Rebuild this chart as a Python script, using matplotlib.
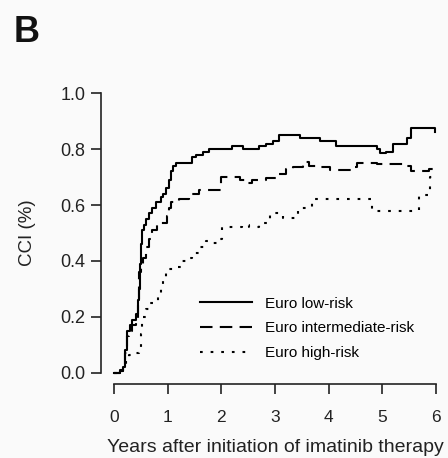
import matplotlib
matplotlib.use("Agg")
from matplotlib import pyplot as plt

plt.rcParams["font.family"] = ["Liberation Sans", "DejaVu Sans"]

# ==========================================================
# Curve cumulative incidence CCI
# ==========================================================
low_x = [0, 0.12, 0.17, 0.20, 0.24, 0.30, 0.34, 0.41, 0.45, 0.47, 0.49, 0.51,
         0.53, 0.56, 0.60, 0.65, 0.71, 0.78, 0.87, 0.92, 0.97, 1.02, 1.06, 1.10,
         1.16, 1.40, 1.45, 1.53, 1.65, 1.78, 1.96, 2.2, 2.4, 2.58, 2.7, 2.83,
         2.96, 3.08, 3.33, 3.46, 3.70, 3.83, 4.07, 4.14, 4.45, 4.71, 4.89, 4.95,
         5.07, 5.20, 5.38, 5.45, 5.54, 5.95, 5.98]
low_y = [0, 0.01, 0.02, 0.08, 0.15, 0.17, 0.19, 0.21, 0.26, 0.30, 0.39, 0.46,
         0.51, 0.53, 0.55, 0.57, 0.59, 0.61, 0.63, 0.64, 0.66, 0.69, 0.72, 0.74,
         0.75, 0.75, 0.77, 0.78, 0.79, 0.80, 0.80, 0.81, 0.80, 0.80, 0.81, 0.82,
         0.83, 0.85, 0.85, 0.84, 0.84, 0.83, 0.83, 0.81, 0.81, 0.81, 0.80, 0.785,
         0.79, 0.82, 0.82, 0.84, 0.875, 0.875, 0.86]

int_x = [0, 0.12, 0.17, 0.20, 0.24, 0.28, 0.34, 0.41, 0.45, 0.47, 0.50, 0.55,
         0.60, 0.65, 0.71, 0.81, 0.90, 0.99, 1.03, 1.06, 1.21, 1.40, 1.59, 1.93,
         2.0, 2.2, 2.34, 2.46, 2.58, 2.83, 3.02, 3.21, 3.33, 3.52, 3.64, 3.83,
         4.02, 4.27, 4.45, 4.52, 4.71, 4.89, 5.45, 5.54, 5.86, 5.95]
int_y = [0, 0.005, 0.015, 0.07, 0.13, 0.15, 0.17, 0.19, 0.25, 0.36, 0.39, 0.41,
         0.45, 0.48, 0.51, 0.535, 0.535, 0.56, 0.59, 0.61, 0.62, 0.64, 0.655,
         0.655, 0.70, 0.70, 0.69, 0.68, 0.69, 0.695, 0.71, 0.73, 0.735, 0.755,
         0.74, 0.735, 0.725, 0.725, 0.735, 0.75, 0.75, 0.745, 0.74, 0.72, 0.73,
         0.75]

high_x = [0, 0.12, 0.17, 0.22, 0.28, 0.40, 0.47, 0.50, 0.53, 0.60, 0.65, 0.75,
          0.82, 0.87, 0.92, 0.97, 1.16, 1.25, 1.34, 1.46, 1.59, 1.71, 1.83, 1.93,
          2.02, 2.2, 2.39, 2.52, 2.71, 2.90, 3.08, 3.14, 3.33, 3.42, 3.59, 3.68,
          4.73, 4.80, 5.64, 5.68, 5.89, 6.0]
high_y = [0, 0.005, 0.02, 0.05, 0.065, 0.07, 0.08, 0.14, 0.20, 0.23, 0.25, 0.255,
          0.28, 0.31, 0.34, 0.37, 0.38, 0.40, 0.41, 0.43, 0.45, 0.47, 0.465, 0.48,
          0.52, 0.52, 0.53, 0.52, 0.535, 0.57, 0.57, 0.555, 0.555, 0.59, 0.59,
          0.62, 0.62, 0.58, 0.58, 0.635, 0.70, 0.70]

labels = ["Euro low-risk", "Euro intermediate-risk", "Euro high-risk"]
x_ticks = [0, 1, 2, 3, 4, 5, 6]
y_ticks = [0.0, 0.2, 0.4, 0.6, 0.8, 1.0]

# ==========================================================
# Plot
# ==========================================================
bg = "#fafafa"
fig = plt.figure(figsize=(4.48, 4.58), dpi=100, facecolor=bg)
ax = fig.add_axes([101 / 448, 1 - 384 / 458, 348 / 448, 302 / 458])
ax.set_facecolor(bg)

lw = 1.5
ax.plot(low_x, low_y, drawstyle="steps-post", color="black", lw=lw,
        label=labels[0])
ax.plot(int_x, int_y, drawstyle="steps-post", color="black", lw=lw,
        dashes=(6, 3.5), label=labels[1])
ax.plot(high_x, high_y, drawstyle="steps-post", color="black", lw=lw,
        dashes=(1.3, 3.8), label=labels[2])

ax.set_xlim(-0.24, 6.24)
ax.set_ylim(-0.04, 1.04)

for s in ["top", "right"]:
    ax.spines[s].set_visible(False)
ax.spines["left"].set_bounds(0, 1)
ax.spines["bottom"].set_bounds(0, 6)
for s in ["left", "bottom"]:
    ax.spines[s].set_linewidth(1.2)
    ax.spines[s].set_color("#222222")

ax.set_xticks(x_ticks)
ax.set_yticks(y_ticks)
ax.set_yticklabels([f"{v:.1f}" for v in y_ticks])
ax.tick_params(axis="both", direction="out", length=7, width=1.2,
               colors="#222222")
ax.tick_params(axis="x", labelsize=12.5, pad=12)
ax.tick_params(axis="y", labelsize=13, pad=4)

ax.set_xlabel("Years after initiation of imatinib therapy", fontsize=14,
              color="#222222", labelpad=10)
ax.set_ylabel("CCI (%)", fontsize=13.5, color="#222222", labelpad=18)

ax.legend(loc="upper left", bbox_to_anchor=(0.245, 0.335), frameon=False,
          fontsize=11, handlelength=3.4, handletextpad=0.85, labelspacing=0.7)

fig.text(14 / 448, 1 - 42 / 458, "B", fontsize=26, fontweight="bold",
         color="#111111")

fig.savefig("out.png", dpi=100, facecolor=bg)
plt.close(fig)
